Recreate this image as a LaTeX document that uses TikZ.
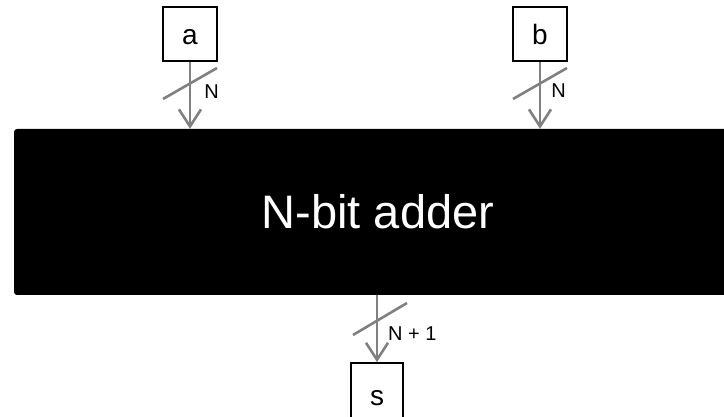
\documentclass[tikz,border=0pt]{standalone}
\usepackage{fontspec}
\setmainfont{Liberation Sans}
\usetikzlibrary{arrows.meta}
\begin{document}
\begin{tikzpicture}[x=1pt,y=-1pt,
  io/.style={draw=black,line width=1.6pt,minimum width=54pt,minimum height=54pt,inner sep=0pt,text height=22pt,text depth=0pt,font=\fontsize{28}{30}\selectfont},
  adderbox/.style={fill=black,draw=none,rounded corners=3pt,minimum width=728pt,minimum height=166pt,inner sep=0pt,text=white,font=\fontsize{47}{50}\selectfont},
  bus/.style={draw={rgb,255:red,128;green,128;blue,128},line width=2.6pt,-{Straight Barb[length=17pt,width=22pt,line width=2.6pt]}},
  slash/.style={draw={rgb,255:red,128;green,128;blue,128},line width=2.6pt},
  buslabel/.style={inner sep=0pt,font=\fontsize{20}{22}\selectfont}
]
\useasboundingbox (0,0) rectangle (724,417);
\clip (0,0) rectangle (724,417);
\node[adderbox] (adder) at (378,212) {N-bit adder};
\node[io] (a) at (190,34) {a};
\node[io] (b) at (540,34) {b};
\node[io,minimum width=52pt,minimum height=58pt,text height=26pt] (s) at (377,392) {s};
\draw[bus] (a.south) -- (a.south |- adder.north);
\draw[bus] (b.south) -- (b.south |- adder.north);
\draw[bus] (adder.south -| s.north) -- (s.north);
\coordinate (sa1) at (163,99); \coordinate (sa2) at (217,68);
\coordinate (sb1) at (513,99); \coordinate (sb2) at (567,68);
\coordinate (ss1) at (353,335); \coordinate (ss2) at (407,303);
\draw[slash] (sa1) -- (sa2);
\draw[slash] (sb1) -- (sb2);
\draw[slash] (ss1) -- (ss2);
\node[buslabel] (na) at (211.5,92) {N};
\node[buslabel] (nb) at (558.5,91) {N};
\node[buslabel,anchor=west] (ns) at (388,334) {N + 1};
\end{tikzpicture}
\end{document}
